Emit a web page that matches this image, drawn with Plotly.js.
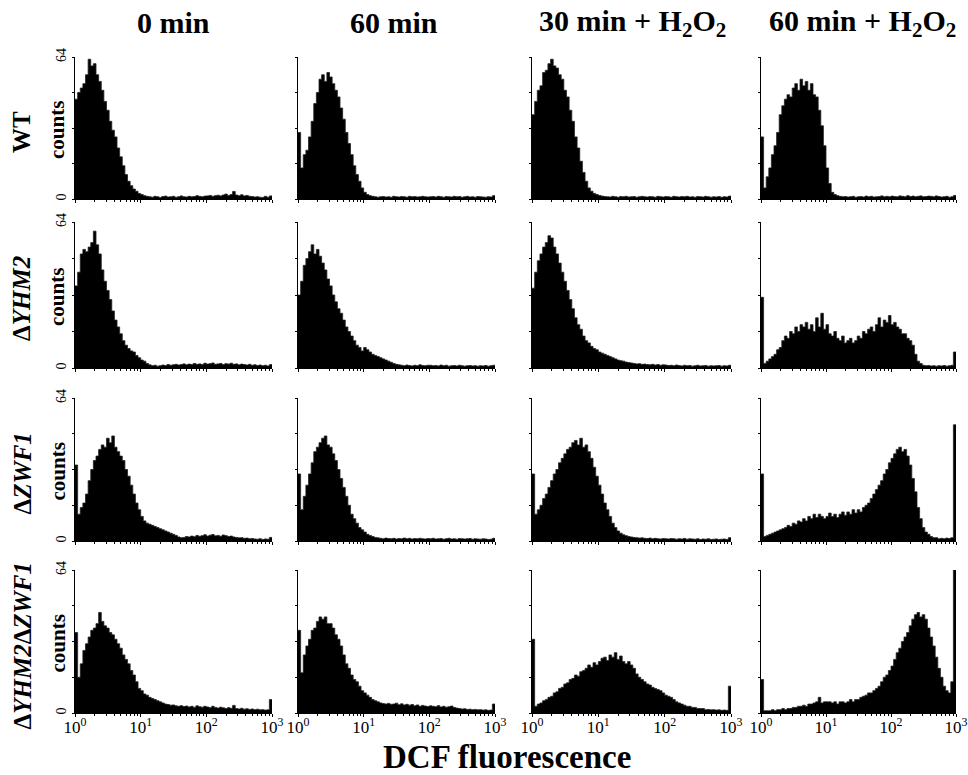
<!DOCTYPE html>
<html>
<head>
<meta charset="utf-8">
<script src="https://cdn.plot.ly/plotly-3.0.1.min.js"></script>
<style>html,body{margin:0;padding:0;background:#fff;}#chart{width:968px;height:775px;}</style>
</head>
<body>
<div id="chart"></div>
<script>
// ---- labels ----
const colTitles = ["0 min", "60 min", "30 min + H<sub>2</sub>O<sub>2</sub>", "60 min + H<sub>2</sub>O<sub>2</sub>"];
const rowTitles = ["WT", "Δ<i>YHM2</i>", "Δ<i>ZWF1</i>", "Δ<i>YHM2</i>Δ<i>ZWF1</i>"];
const yLabel = "counts";
const xLabel = "DCF fluorescence";
const xTickVals = [1, 10, 100, 1000];
const xTickText = ["10<sup>0</sup>", "10<sup>1</sup>", "10<sup>2</sup>", "10<sup>3</sup>"];
const yTickVals = [0, 64];
const yTickText = ["0", "64"];
const yMinorTicks = [16, 32, 48];

// ---- histogram counts (25 log-spaced channels per decade, 10^0 .. 10^3) ----
// row 1: WT
const wt_0min = [
  45,48,50,52,56,63,60,61,56,53,49,44,40,35,31,28,23,19,15,11,8,6,4.5,3.5,2.5,
  2,1.5,1.2,1,0.8,1.2,1,0.7,1.1,1.3,0.9,1,1.2,0.8,1,1.4,1,0.9,1.2,1,1.1,1.5,1.2,1,1.3,
  1.4,1.6,1.2,1.5,1.7,1.4,1.8,2.2,1.6,2,3.4,1.8,1.5,1.9,1.4,1.6,1.2,1.1,0.9,1,0.8,0.7,1.2,0.8,1.4];
const wt_60min = [
  30,14,20,22,28,35,43,48,54,56,53,57,55,52,49,46,41,36,30,25,20,15,11,8,5,
  3,2,1.5,1.2,1,0.8,1,1.1,0.9,1,0.8,1.2,1,0.9,1.1,1,0.8,1.2,1,1.1,0.9,1,1.2,1,0.9,
  1,1.1,0.9,1.2,1,0.8,1.1,1,0.9,1.2,1,1.1,0.8,1,1.2,0.9,1,0.8,1.1,1,0.9,0.8,1,0.9,1.5];
const wt_30minH2O2 = [
  38,44,49,51,57,58,61,63,60,59,56,54,49,46,40,35,28,23,17,12,8,5,3.5,2.5,2,
  1.6,1.3,1.1,1,0.9,1.2,1,0.8,1.1,1,1.2,0.9,1,1.1,0.8,1,1.2,1,0.9,1.1,1,0.8,1.2,1,0.9,
  1.1,1,0.8,1.2,1,0.9,1.1,1,1.2,0.9,1,0.8,1.1,1,0.9,1.2,1,0.8,1,0.9,1.1,0.8,1,0.9,1.3];
const wt_60minH2O2 = [
  28,5,10,14,20,24,30,38,42,45,47,46,50,52,49,54,51,53,49,52,47,46,40,33,24,
  14,7,3,2,1.5,1.2,1,1.1,0.9,1,1.2,0.8,1,1.1,0.9,1.3,1,1.2,0.9,1,1.1,1.4,1,1.2,1,
  1.3,1.1,1,1.4,1.2,1,1.5,1.1,1.3,1,1.2,1.4,1,1.1,1.3,1.2,1,1.4,1.1,0.9,1,1.2,0.8,1,1.6];
// row 2: ΔYHM2
const yhm2_0min = [
  36,42,50,52,51,53,55,60,54,50,43,38,34,30,25,21,18,15,12,10,8.5,7.5,7,5.5,4.5,
  3.5,3,2,1.4,1,1.2,0.8,1,1.3,1.1,1.5,1.2,1.4,1.6,1.3,1.5,1.8,1.4,1.7,1.5,2,1.6,1.8,1.5,2.1,
  1.7,1.9,2.2,1.6,1.8,2,1.5,1.9,1.7,2.1,1.6,1.8,1.4,1.7,1.5,1.3,1.6,1.2,1.4,1.1,1.3,1,1.2,0.9,1.5];
const yhm2_60min = [
  32,38,45,48,51,54,50,52,49,46,43,39,36,32,29,26,24,21,18,16,14,12,10,9,7.5,
  9,8,7,6,5.5,5,4.5,4,3.5,3,2.5,2,1.6,1.4,1.2,1,1.3,1.1,0.9,1.2,1,1.4,1.1,1,1.2,
  1.2,1,1.1,0.9,1.3,1,1.2,0.8,1,1.1,0.9,1.2,1,0.8,1,1.1,0.9,1,0.8,1,0.9,1.1,0.8,1,1.2];
const yhm2_30minH2O2 = [
  35,42,47,50,53,55,58,57,53,50,46,42,38,34,30,26,22,19,17,14,12,11,9.5,8.5,8,
  7,6.5,6,5.5,5,4.5,4,3.5,3.2,3,2.6,2.4,2.2,2,1.8,1.9,1.6,1.7,1.5,1.4,1.6,1.3,1.5,1.2,1.4,
  1.3,1.1,1.2,1,1.3,1.1,0.9,1.2,1,1.1,0.8,1,1.2,0.9,1,1.1,0.8,1,0.9,1,1.1,0.8,1,0.9,1.2];
const yhm2_60minH2O2 = [
  31,2,3,4,5,6,8,9,12,14,13,16,15,18,16,19,18,20,17,19,16,22,18,24,17,
  19,15,14,16,13,12,14,11,12,13,11,12,14,13,16,15,17,18,16,19,22,18,21,20,23,
  19,20,18,17,15,15,13,12,10,6,3,2,1.2,1,1.1,0.9,1,0.8,1,0.9,1.1,0.8,1,1.2,7];
// row 3: ΔZWF1
const zwf1_0min = [
  34,12,15,17,21,27,32,36,38,41,43,42,46,44,47,42,40,38,36,32,29,25,21,17,14,
  11,9,8,7.5,7,6.5,6,5.5,5,4.5,4,3.5,3,2.5,1.8,1.5,1.6,2,1.8,2.2,1.9,2.5,2.1,2.4,2.8,
  2.2,2.6,2.9,2.3,2.5,2.1,2.7,2.4,2,2.2,1.8,1.6,1.4,1.5,1.2,1.3,1,1.1,0.9,0.8,1,0.7,0.9,0.8,1.6];
const zwf1_60min = [
  30,14,20,25,30,35,40,42,44,46,47,43,42,39,36,32,28,24,20,16,12,10,8,6,5,
  4,3,2.5,2,1.6,1.4,1.2,1,1.3,1.1,1,1.2,0.9,1.1,1,1.3,1,1.2,0.9,1.1,1,1.2,1,0.9,1.1,
  1,1.2,0.9,1,1.1,0.8,1,1.2,0.9,1,0.8,1.1,1,0.9,1,1.1,0.8,1,0.9,0.8,1,0.9,0.7,0.8,1.2];
const zwf1_30minH2O2 = [
  30,12,14,16,19,21,24,27,30,32,35,37,39,41,42,44,45,43,46,42,43,40,37,33,29,
  25,21,17,14,11,8,6,4.5,3.5,2.8,2.4,2,1.8,1.6,1.5,1.3,1.4,1.2,1.1,1.3,1,1.2,1,0.9,1.1,
  1,0.9,1.1,1,0.8,1,0.9,1.1,0.8,1,0.9,0.8,1,0.7,0.9,0.8,1,0.7,0.8,0.9,0.7,0.8,0.9,0.7,1.5];
const zwf1_60minH2O2 = [
  30,2,2.5,3,3.5,4,4.5,5,5.5,6,7,6.5,8,7.5,9,8.5,10,9,11,10,12,10.5,12,11,10,
  11,12.5,11,12,10.5,12,13,11.5,13,12,14,12.5,14,13,15,16,17,19,21,23,25,27,30,32,35,
  37,39,41,42,40,41,38,34,28,22,15,10,6,4,3,2,1.5,1.5,1,1.2,1,1.3,1.1,1.5,52];
// row 4: ΔYHM2ΔZWF1
const dd_0min = [
  36,16,22,28,31,34,37,38,40,45,41,39,38,36,35,33,31,29,26,24,22,19,17,14,11,
  10,8.5,8,7,6.5,6,5.5,5,4.5,4,3.8,3.5,3.6,3.2,3,3.3,2.9,3.1,2.7,3,2.5,3.2,2.8,2.6,3,
  2.7,2.4,3,2.5,2.2,2.6,2.3,2,2.4,2.1,3.4,2,1.8,2.1,1.7,1.9,1.6,1.8,1.5,1.7,1.4,1.5,1.3,1.4,6];
const dd_60min = [
  37,18,26,30,33,37,38,41,43,42,43,40,40,38,35,33,30,26,22,20,17,15,14,12,10,
  9,8,7,6,5.5,5,4.5,4.2,4,4.3,3.9,4,4.4,3.7,4.1,3.6,3.9,3.5,3.8,3.2,3.6,3,3.4,3.1,2.9,
  3.2,3,2.8,3.3,2.7,3,2.6,2.8,3.1,2.5,2.2,2,1.8,1.9,1.6,1.7,1.5,1.6,1.4,1.5,1.3,1.4,1.2,1.3,4];
const dd_30minH2O2 = [
  33,3,4,4.5,5.5,6,7,7.5,9,9.5,11,11.5,13,13.5,15,15.5,17,16.5,18.5,19,20,21.5,20.5,22.5,21.5,
  23,24.5,25,23.5,26,25,27,24,25.5,23,22,23,21.5,20,17.5,16,15,14,13,12.5,11.5,11,10.5,10,9,
  8,7.5,7,6,5,4.5,4,3.5,3,3,2.5,2.5,2,2,2,1.5,1.6,1.4,1.5,1.3,1.4,1.2,1.3,1.2,12];
const dd_60minH2O2 = [
  15,1,1,1,1.5,1,1.5,1.5,2,1.5,2,2,2.5,2.5,3,3,3.5,3,4,4,4.5,5,7,4.5,5,
  5,5,4.5,5,4,5,5,4.5,5,6,5,6,6,7,7.5,8,9,9,10,11,12,14,16,17,19,
  21,24,27,29,32,34,36,39,42,44,45,43,44,42,38,34,30,25,20,16,12,10,9,14,64];

const panels = [
  [wt_0min, wt_60min, wt_30minH2O2, wt_60minH2O2],
  [yhm2_0min, yhm2_60min, yhm2_30minH2O2, yhm2_60minH2O2],
  [zwf1_0min, zwf1_60min, zwf1_30minH2O2, zwf1_60minH2O2],
  [dd_0min, dd_60min, dd_30minH2O2, dd_60minH2O2]
];

// ---- layout geometry (pixels) ----
const W = 968, H = 775;
const colL = [75, 298, 532, 761], colR = [272, 495, 731, 956];
const rowT = [57, 222, 398, 570], rowB = [199, 368, 541, 713];
const px = v => v / W, py = v => 1 - v / H;

const FONT = "Liberation Serif, Times New Roman, serif";
const minorVals = [];
[1, 10, 100].forEach(d => { for (let k = 2; k <= 9; k++) minorVals.push(k * d); });

const traces = [];
const layout = {
  width: W, height: H, margin: {l: 0, r: 0, t: 0, b: 0},
  paper_bgcolor: "#fff", plot_bgcolor: "#fff", showlegend: false,
  font: {family: FONT, color: "#000"},
  annotations: []
};

let n = 0;
for (let r = 0; r < 4; r++) {
  for (let c = 0; c < 4; c++) {
    n++;
    const counts = panels[r][c];
    const N = counts.length;
    const xs = [], ys = [];
    for (let i = 0; i <= N; i++) {
      xs.push(Math.pow(10, 3 * i / N));
      ys.push(counts[Math.min(i, N - 1)]);
    }
    const sfx = n === 1 ? "" : String(n);
    traces.push({
      type: "scatter", mode: "lines", x: xs, y: ys,
      xaxis: "x" + sfx, yaxis: "y" + sfx,
      line: {shape: "hv", color: "#222", width: 0.8},
      fill: "tozeroy", fillcolor: "#000", hoverinfo: "skip"
    });
    const xa = {
      domain: [px(colL[c]), px(colR[c])], anchor: "y" + sfx,
      type: "log", range: [0, 3], showgrid: false, zeroline: false,
      showline: true, linecolor: "#000", linewidth: 1,
      ticks: "outside", ticklen: 3, tickcolor: "#000", tickwidth: 1,
      minor: {tickmode: "array", tickvals: minorVals, ticks: "outside", ticklen: 2, tickcolor: "#000", tickwidth: 1},
      fixedrange: true
    };
    if (r === 3) {
      Object.assign(xa, {tickmode: "array", tickvals: xTickVals, ticktext: xTickText,
        showticklabels: true, ticklabeloverflow: "allow", ticklabelstandoff: -4,
        tickfont: {family: FONT, size: 17, color: "#000"}});
    } else {
      Object.assign(xa, {tickmode: "array", tickvals: xTickVals, showticklabels: false});
    }
    layout["xaxis" + sfx] = xa;
    const ya = {
      domain: [py(rowB[r]), py(rowT[r])], anchor: "x" + sfx,
      range: [0, 64], showgrid: false, zeroline: false,
      showline: true, linecolor: "#000", linewidth: 1,
      ticks: "outside", ticklen: 2, tickcolor: "#000", tickwidth: 1,
      tickmode: "array", tickvals: yTickVals,
      minor: {tickmode: "array", tickvals: yMinorTicks, ticks: "outside", ticklen: 2, tickcolor: "#000", tickwidth: 1},
      fixedrange: true
    };
    if (c === 0) {
      Object.assign(ya, {ticktext: yTickText, showticklabels: true, tickangle: -90,
        tickfont: {family: FONT, size: 14, color: "#000"}});
    } else {
      ya.showticklabels = false;
    }
    layout["yaxis" + sfx] = ya;
  }
}

// column titles
const colCenters = [173, 394, 632, 862];
colTitles.forEach((t, c) => layout.annotations.push({
  text: "<b>" + t + "</b>", xref: "paper", yref: "paper",
  x: px(colCenters[c]), y: py(23), xanchor: "center", yanchor: "middle",
  showarrow: false, font: {family: FONT, size: 30, color: "#000"}
}));
// row titles + counts labels
rowTitles.forEach((t, r) => {
  const yc = (rowT[r] + rowB[r]) / 2;
  layout.annotations.push({
    text: "<b>" + t + "</b>", xref: "paper", yref: "paper",
    x: px(22), y: py(yc + 4), xanchor: "center", yanchor: "middle", textangle: -90,
    showarrow: false, font: {family: FONT, size: 25, color: "#000"}
  });
  layout.annotations.push({
    text: "<b>" + yLabel + "</b>", xref: "paper", yref: "paper",
    x: px(57), y: py(yc + 2), xanchor: "center", yanchor: "middle", textangle: -90,
    showarrow: false, font: {family: FONT, size: 21, color: "#000"}
  });
});
// x-axis title
layout.annotations.push({
  text: "<b>" + xLabel + "</b>", xref: "paper", yref: "paper",
  x: px(507), y: py(757), xanchor: "center", yanchor: "middle",
  showarrow: false, font: {family: FONT, size: 33, color: "#000"}
});

Plotly.newPlot("chart", traces, layout, {staticPlot: true, displayModeBar: false});
</script>
</body>
</html>
